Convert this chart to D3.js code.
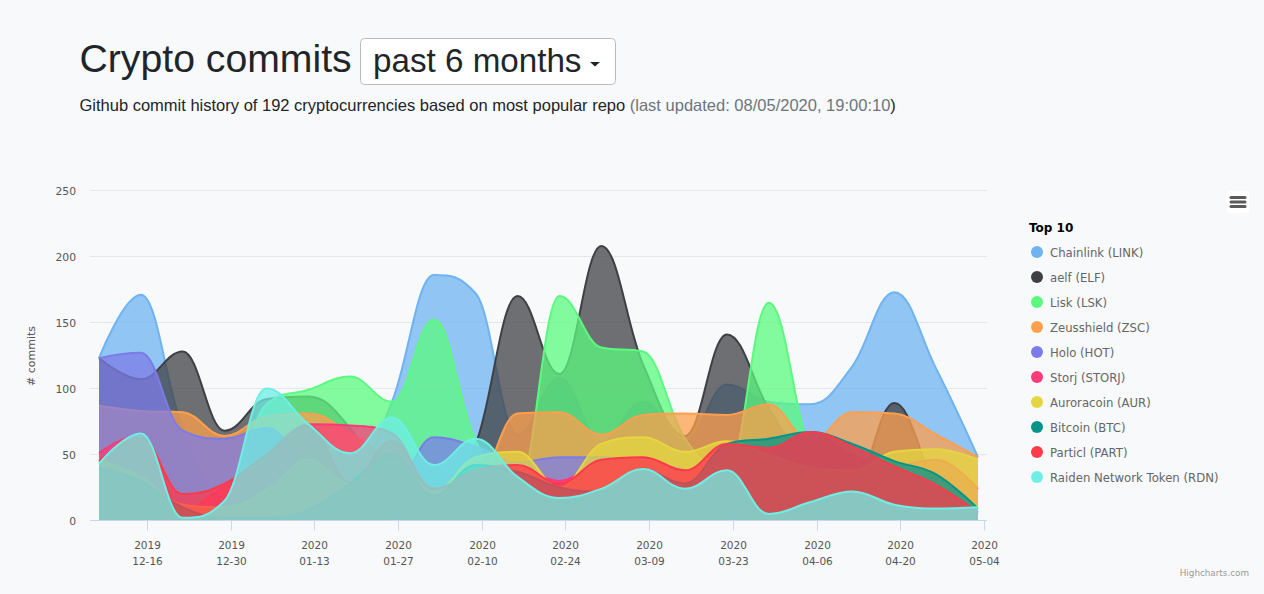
<!DOCTYPE html>
<html>
<head>
<meta charset="utf-8">
<script src="https://cdn.jsdelivr.net/npm/d3@7"></script>
<style>
html,body{margin:0;padding:0;background:#f8f9fa;overflow:hidden}
svg{display:block}
</style>
</head>
<body>
<svg id="c" width="1264" height="594"></svg>
<script>
const weeks = ["2019-12-08","2019-12-15","2019-12-22","2019-12-29","2020-01-05","2020-01-12","2020-01-19","2020-01-26","2020-02-02","2020-02-09","2020-02-16","2020-02-23","2020-03-01","2020-03-08","2020-03-15","2020-03-22","2020-03-29","2020-04-05","2020-04-12","2020-04-19","2020-04-26","2020-05-03"];
const tickDates = ["2019-12-16","2019-12-30","2020-01-13","2020-01-27","2020-02-10","2020-02-24","2020-03-09","2020-03-23","2020-04-06","2020-04-20","2020-05-04"];
const yTicks = [0,50,100,150,200,250];
const names = ["Chainlink (LINK)","aelf (ELF)","Lisk (LSK)","Zeusshield (ZSC)","Holo (HOT)","Storj (STORJ)","Auroracoin (AUR)","Bitcoin (BTC)","Particl (PART)","Raiden Network Token (RDN)"];
const colors = ["#6fb3f0","#404044","#5bf97f","#fd9f4c","#7c7ce8","#fb3a78","#e4d640","#069488","#fd3a4c","#6feee4"];
const link  = [123,171,70,20,55,60,29,90,186,172,65,108,60,90,60,103,90,88,117,173,115,48];
const elf   = [123,107,128,68,92,94,70,20,15,58,170,111,208,118,64,141,85,40,25,89,28,5];
const lsk   = [20,15,5,12,88,99,109,90,152,60,25,170,131,128,62,35,165,50,10,6,5,4];
const zsc   = [87,83,82,64,79,81,66,45,25,28,81,82,65,80,81,80,88,60,82,81,65,48];
const hot   = [123,127,68,62,70,40,25,25,63,56,44,48,48,45,38,25,10,7,6,5,5,5];
const storj = [51,65,8,26,45,73,72,66,23,38,40,30,46,48,38,57,55,67,50,42,46,24];
const aur   = [46,33,12,10,23,46,28,47,22,48,52,25,58,63,52,60,50,40,38,52,54,46];
const btc   = [40,30,10,2,2,8,28,50,19,42,37,25,22,38,28,58,62,67,58,45,35,9];
const part  = [45,62,20,28,50,72,29,60,24,38,42,28,46,48,38,58,55,67,56,41,27,6];
const rdn   = [43,66,2,15,100,73,51,78,42,62,33,17,24,39,24,38,5,14,22,12,9,10];
const seriesValues = [link,elf,lsk,zsc,hot,storj,aur,btc,part,rdn];

const svg = d3.select("#c");
const parse = d3.utcParse("%Y-%m-%d");
const x = d3.scaleUtc().domain([parse(weeks[0]),parse(weeks[weeks.length-1])]).range([99,978]);
const y = d3.scaleLinear().domain([0,250]).range([520.5,190.5]);
const CF = '"DejaVu Sans",Verdana,sans-serif';
const HF = '"Liberation Sans",Helvetica,Arial,sans-serif';

// Highcharts-style spline as a d3 curve factory
function HCSpline(ctx){this._c=ctx;}
HCSpline.prototype={
  areaStart(){this._line=0;},
  areaEnd(){this._line=NaN;},
  lineStart(){this._p=[];},
  point(a,b){this._p.push([+a,+b]);},
  lineEnd(){
    const p=this._p,c=this._c,n=p.length,s=1.5,d=2.5;
    if(n){ if(this._line) c.lineTo(p[0][0],p[0][1]); else c.moveTo(p[0][0],p[0][1]); }
    const cont=i=>{
      const [px,py]=p[i];
      if(i===0||i===n-1) return {lx:px,ly:py,rx:px,ry:py};
      const [ax,ay]=p[i-1],[bx,by]=p[i+1];
      const lx=(s*px+ax)/d,rx=(s*px+bx)/d;
      let ly=(s*py+ay)/d,ry=(s*py+by)/d;
      if(rx!==lx){const k=(ry-ly)*(rx-px)/(rx-lx)+py-ry;ly+=k;ry+=k;}
      if(ly>ay&&ly>py){ly=Math.max(ay,py);ry=2*py-ly;}
      else if(ly<ay&&ly<py){ly=Math.min(ay,py);ry=2*py-ly;}
      if(ry>by&&ry>py){ry=Math.max(by,py);ly=2*py-ry;}
      else if(ry<by&&ry<py){ry=Math.min(by,py);ly=2*py-ry;}
      return {lx,ly,rx,ry};
    };
    for(let i=1;i<n;i++){
      const a=cont(i-1),b=cont(i);
      c.bezierCurveTo(a.rx,a.ry,b.lx,b.ly,p[i][0],p[i][1]);
    }
    if(this._line) c.closePath();
    this._line=1-this._line;
  }
};
const hcCurve=ctx=>new HCSpline(ctx);

// header
svg.append("text").attr("x",79.5).attr("y",72).attr("font-family",HF).attr("font-size",39.2).attr("fill","#212529").text("Crypto commits");
svg.append("rect").attr("x",360.5).attr("y",38.5).attr("width",255).attr("height",46).attr("rx",4).attr("fill","#fff").attr("stroke","#bbb");
svg.append("text").attr("x",373).attr("y",72).attr("font-family",HF).attr("font-size",33.2).attr("fill","#212529").text("past 6 months");
svg.append("path").attr("d",d3.line()([[590,62],[600,62],[595,66.5]])+"Z").attr("fill","#212529");
const sub=svg.append("text").attr("x",79.5).attr("y",111).attr("font-family",HF).attr("font-size",16.5).attr("fill","#212529");
sub.append("tspan").text("Github commit history of 192 cryptocurrencies based on most popular repo ");
sub.append("tspan").attr("fill","#6c757d").text("(last updated: 08/05/2020, 19:00:10");
sub.append("tspan").text(")");

// grid
svg.append("g").selectAll("line").data(yTicks.slice(1)).join("line")
  .attr("x1",90).attr("x2",987).attr("y1",d=>y(d)).attr("y2",d=>y(d)).attr("stroke","#e6e6e6");

// areas
const dates=weeks.map(parse);
const area=d3.area().x((d,i)=>x(dates[i])).y0(y(0)).y1(d=>y(d)).curve(hcCurve);
const line=d3.line().x((d,i)=>x(dates[i])).y(d=>y(d)).curve(hcCurve);
const g=svg.append("g");
seriesValues.forEach((vals,i)=>{
  g.append("path").attr("d",area(vals)).attr("fill",colors[i]).attr("fill-opacity",0.75);
  g.append("path").attr("d",line(vals)).attr("fill","none").attr("stroke",colors[i]).attr("stroke-width",2);
});

// axes
const xAxis=svg.append("g");
xAxis.append("line").attr("x1",90).attr("x2",987).attr("y1",520.5).attr("y2",520.5).attr("stroke","#ccd6eb");
const tk=xAxis.selectAll("g").data(tickDates).join("g").attr("transform",d=>`translate(${Math.round(x(parse(d)))+0.5},520.5)`);
tk.append("line").attr("y2",10).attr("stroke","#ccd6eb");
tk.append("text").attr("text-anchor","middle").attr("y",28).attr("font-family",CF).attr("font-size",10.5).attr("fill","#555").text(d=>d.slice(0,4));
tk.append("text").attr("text-anchor","middle").attr("y",44).attr("font-family",CF).attr("font-size",10.5).attr("fill","#555").text(d=>d.slice(5));
svg.append("g").selectAll("text").data(yTicks).join("text")
  .attr("x",76).attr("y",d=>y(d)+4).attr("text-anchor","end").attr("font-family",CF).attr("font-size",10.8).attr("fill","#555").text(d=>d);
svg.append("text").attr("transform","translate(35,356) rotate(-90)").attr("text-anchor","middle").attr("font-family",CF).attr("font-size",11).attr("fill","#555").text("# commits");

// legend
svg.append("text").attr("x",1029).attr("y",232).attr("font-family",CF).attr("font-size",12).attr("font-weight","bold").attr("fill","#000").text("Top 10");
const lg=svg.append("g").selectAll("g").data(names).join("g").attr("transform",(d,i)=>`translate(0,${252+25*i})`);
lg.append("circle").attr("cx",1037).attr("cy",0).attr("r",6).attr("fill",(d,i)=>colors[i]);
lg.append("text").attr("x",1050).attr("y",4.5).attr("font-family",CF).attr("font-size",11.7).attr("fill","#666").text(d=>d);

// menu + credit
svg.append("rect").attr("x",1227).attr("y",191).attr("width",22).attr("height",22).attr("rx",2).attr("fill","#fff");
[197.5,202,206.5].forEach(v=>svg.append("line").attr("x1",1231).attr("x2",1245).attr("y1",v).attr("y2",v).attr("stroke","#5a5a5a").attr("stroke-width",3).attr("stroke-linecap","round"));
svg.append("text").attr("x",1249).attr("y",576).attr("text-anchor","end").attr("font-family",CF).attr("font-size",8.8).attr("fill","#999").text("Highcharts.com");
</script>
</body>
</html>
